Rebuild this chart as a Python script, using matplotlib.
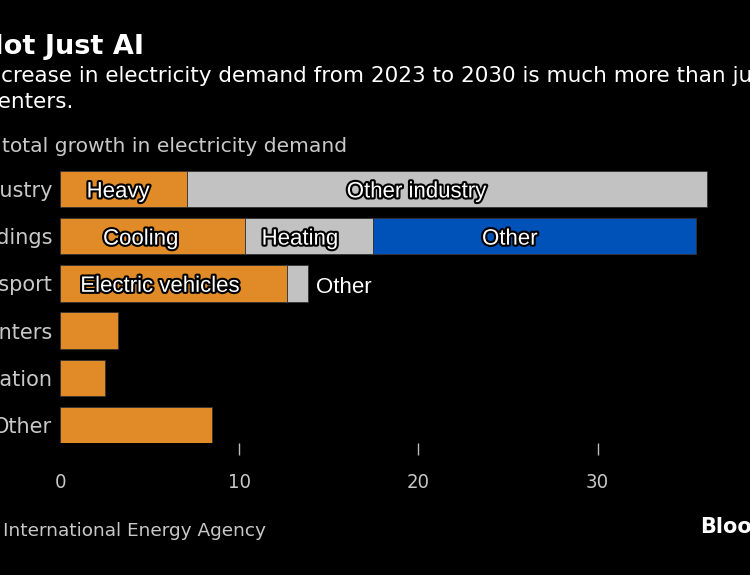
import matplotlib
matplotlib.use("Agg")
import matplotlib.pyplot as plt
import matplotlib.patheffects as pe

# data, % of total growth in electricity demand 2023-2030
categories = ["Industry", "Buildings", "Transport", "Data centers", "Desalination", "Other"]
heavy = 7.1
other_industry = 29.0
cooling = 10.3
heating = 7.15
buildings_other = 18.05
electric_vehicles = 12.65
transport_other = 1.2
data_centers = 3.25
desalination = 2.5
other_total = 8.5

ticks = [0, 10, 20, 30]
tick_labels = ["0", "10", "20", "30"]

orange = "#E08A28"
grey = "#C2C2C2"
blue = "#0052B9"
text_grey = "#C8C8C8"

fig = plt.figure(figsize=(7.5, 5.75), dpi=100, facecolor="black")
ax = fig.add_axes([0.08, 0.2296, 0.908, 0.4826])
ax.set_facecolor("black")

h = 0.77
edge = dict(edgecolor="#333333", linewidth=0.6)
ax.barh(0, heavy, height=h, color=orange, **edge)
ax.barh(0, other_industry, left=heavy, height=h, color=grey, **edge)
ax.barh(1, cooling, height=h, color=orange, **edge)
ax.barh(1, heating, left=cooling, height=h, color=grey, **edge)
ax.barh(1, buildings_other, left=cooling + heating, height=h, color=blue, **edge)
ax.barh(2, electric_vehicles, height=h, color=orange, **edge)
ax.barh(2, transport_other, left=electric_vehicles, height=h, color=grey, **edge)
ax.barh(3, data_centers, height=h, color=orange, **edge)
ax.barh(4, desalination, height=h, color=orange, **edge)
ax.barh(5, other_total, height=h, color=orange, **edge)

# segment labels, white with black outline
stroke = [pe.withStroke(linewidth=3, foreground="black")]
seg_labels = [
    ("Heavy", 3.25, 0),
    ("Other industry", 19.9, 0),
    ("Cooling", 4.5, 1),
    ("Heating", 13.4, 1),
    ("Other", 25.1, 1),
    ("Electric vehicles", 5.6, 2),
]
for txt, x, y in seg_labels:
    ax.text(x, y + 0.06, txt, ha="center", va="center", color="white",
            fontsize=16, family="Liberation Sans", path_effects=stroke)
ax.text(14.3, 2.08, "Other", ha="left", va="center", color="white",
        fontsize=16, family="Liberation Sans")

cond = dict(family="DejaVu Sans", stretch="condensed")

ax.set_xlim(0, 38)
ax.set_ylim(5.38, -0.5)
ax.set_yticks(range(len(categories)))
ax.set_yticklabels(categories)
ax.set_xticks(ticks)
ax.set_xticklabels(tick_labels, **cond)
ax.tick_params(axis="y", length=0, pad=5.5, labelsize=15, labelcolor=text_grey)
ax.tick_params(axis="x", direction="out", length=8.6, width=1, color="#bbbbbb",
               pad=13, labelsize=14.5, labelcolor=text_grey)
ax.xaxis.get_major_ticks()[0].tick1line.set_visible(False)
for s in ax.spines.values():
    s.set_visible(False)

# header and footer text
fig.text(-0.025, 0.918, "Not Just AI", color="white", fontsize=19.5, fontweight="bold",
         ha="left", va="center")
fig.text(-0.0253, 0.867, "Increase in electricity demand from 2023 to 2030 is much more than just data",
         color="white", fontsize=15.5, ha="left", va="center")
fig.text(-0.0175, 0.823, "centers.", color="white", fontsize=15.5, ha="left", va="center")
fig.text(0.003, 0.746, "total growth in electricity demand", color=text_grey,
         fontsize=14.6, ha="left", va="center")
fig.text(0.004, 0.077, "International Energy Agency", color=text_grey,
         fontsize=13.3, ha="left", va="center")
fig.text(0.933, 0.083, "Bloomberg", color="white", fontsize=15, fontweight="bold",
         ha="left", va="center")

fig.savefig("out.png", dpi=100, facecolor="black")
